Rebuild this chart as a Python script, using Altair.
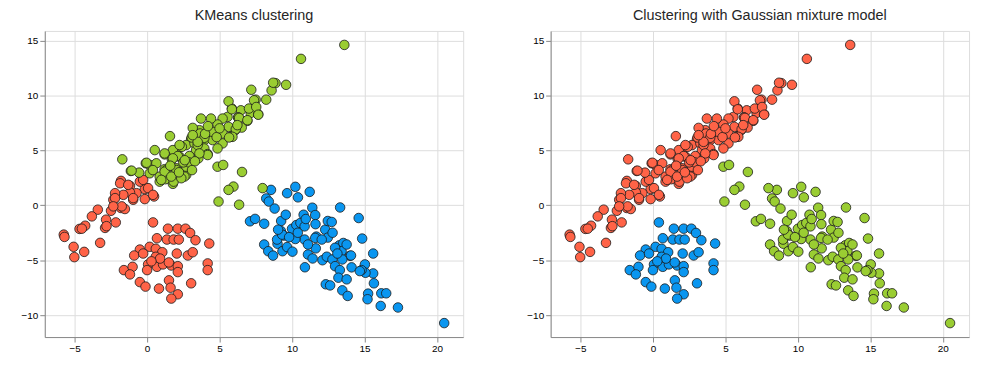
import altair as alt
import pandas as pd

# Diagonal cluster, upper part (KMeans: green, GMM: red)
A_top = [
    (13.61, 14.59), (10.62, 13.32), (8.86, 11.11), (9.59, 10.96), (8.59, 10.45), (8.7, 11.15),
    (7.19, 10.51), (8.22, 9.61), (7.49, 9.61), (7.45, 8.94), (7.15, 8.4), (7.67, 8.28),
    (6.92, 7.68), (6.47, 8.64), (6.3, 7.98), (5.85, 8.8), (5.62, 9.46), (7.38, 9.55),
    (6.08, 6.83), (5.78, 6.23), (6.53, 7.07), (5.55, 8.04), (5.21, 7.89), (4.86, 7.35),
    (4.41, 7.89), (3.72, 7.89), (5.62, 7.13), (6.12, 6.92), (5.89, 6.23), (5.21, 6.53),
    (4.52, 6.53), (3.61, 6.83), (3.15, 7.04), (3.04, 6.02), (3.61, 6.44), (3.95, 5.93),
    (4.52, 5.93), (5.21, 5.63), (2.7, 5.48), (3.27, 5.63), (3.95, 5.17), (3.38, 5.02),
    (2.24, 5.32), (4.86, 5.17), (3.66, 6.53), (3.08, 6.17), (3.95, 6.14), (1.58, 6.29),
    (0.53, 5.02), (1.78, 5.02), (2.4, 5.32), (3.49, 5.48), (2.92, 4.48), (3.54, 4.27),
    (4.18, 4.66), (1.21, 4.63), (1.71, 4.18), (2.24, 4.42), (-1.71, 4.18), (-0.09, 3.82),
    (-1.12, 3.12), (-0.55, 2.97), (0.18, 3.67), (1.21, 3.28), (2.01, 3.37), (2.7, 2.76),
    (1.33, 2.46), (1.78, 1.95), (0.87, 2.15), (0.18, 2.91), (0.87, 2.61), (1.33, 3.21),
    (2.01, 3.21), (2.12, 4.48), (1.26, 2.37), (1.83, 2.15), (2.58, 2.61), (4.18, 4.57),
    (0.64, 3.82), (1.21, 4.72), (1.78, 4.27), (1.21, 3.06), (1.67, 2.61), (2.36, 2.46),
    (2.24, 5.48), (3.49, 5.77), (3.61, 4.72), (2.7, 3.51), (3.15, 6.38), (4.52, 6.68),
    (0.98, 2.31), (-1.07, 3.15), (-0.04, 3.87), (5.66, 6.17), (5.85, 8.73), (6.28, 7.98),
    (6.35, 7.95), (6.23, 7.29), (7.03, 8.8), (6.92, 7.74), (7.53, 8.94), (7.67, 8.24),
    (2.9, 3.9), (3.3, 4.0), (2.5, 3.9), (3.1, 3.2), (0.4, 3.2), (1.6, 3.6),
    (2.2, 3.0), (2.6, 4.1), (4.0, 6.5), (4.8, 6.2), (5.0, 7.0), (4.2, 7.2),
]

# Diagonal cluster, lower-left part (KMeans: red, GMM: red)
A_low = [
    (-1.8, 2.22), (-1.18, 1.76), (-0.43, 2.22), (-0.04, 1.56), (-0.16, 1.47), (0.48, 0.8),
    (-0.16, 0.56), (-0.96, 0.5), (-0.73, 1.1), (-1.18, 1.16), (-1.64, 0.95), (-2.21, 1.1),
    (-2.33, 0.5), (-1.8, -0.25), (-1.53, -0.34), (-2.49, -0.5), (-3.4, -0.4), (-3.81, -1.01),
    (-2.16, -1.56), (-2.83, -1.31), (-2.9, -2.06), (-4.27, -1.86), (-4.66, -2.15), (-5.75, -2.67),
    (-5.7, -2.88), (-5.07, -3.78), (-4.34, -4.24), (-5.02, -4.72), (-3.24, -3.42), (-1.86, 2.0),
    (-1.3, 1.86), (-0.5, 2.15), (-0.27, 2.31), (0.07, 1.56), (0.41, 0.95), (-2.21, 0.65),
    (-1.75, -0.1), (-2.33, -0.1), (-0.96, 0.65), (-2.8, -1.9), (-4.5, -2.13),
]

# Small round cluster (KMeans: red, GMM: blue)
B = [
    (0.41, -1.56), (1.44, -2.13), (2.12, -2.13), (2.65, -2.13), (2.97, -2.52), (0.68, -3.0),
    (1.37, -3.12), (1.83, -3.12), (2.19, -3.12), (3.34, -3.18), (4.29, -3.48), (-0.5, -4.03),
    (0.18, -3.78), (0.6, -3.96), (1.05, -4.27), (-0.89, -4.57), (-0.27, -4.39), (0.6, -4.69),
    (2.05, -4.39), (2.81, -4.57), (3.15, -4.27), (0.07, -5.38), (0.68, -5.6), (1.1, -5.38),
    (1.67, -5.48), (2.12, -5.54), (0.0, -5.9), (2.12, -6.08), (-1.6, -5.9), (-1.0, -5.6),
    (-1.18, -6.29), (4.18, -5.29), (4.18, -5.9), (-0.5, -6.99), (-0.11, -7.4), (0.82, -7.58),
    (1.51, -6.83), (1.62, -7.5), (2.12, -8.1), (1.67, -8.49), (3.04, -7.1), (0.9, -4.85),
    (1.5, -5.2), (0.3, -5.1),
]

# Lower-right cluster (KMeans: blue, GMM: green)
C = [
    (8.55, 1.4), (8.22, 0.62), (8.4, 0.34), (8.8, -0.3), (9.66, 1.1), (10.23, 1.68),
    (10.41, 0.72), (11.22, 1.22), (7.1, -1.46), (7.45, -1.24), (8.08, -1.68), (9.25, -1.43),
    (9.57, -0.86), (9.23, -2.34), (10.0, -2.14), (10.3, -1.8), (10.58, -1.61), (10.8, -0.86),
    (10.87, -1.92), (10.95, -1.25), (11.4, -0.22), (11.6, -0.89), (11.62, -1.72), (12.29, -2.22),
    (12.47, -1.43), (12.74, -1.52), (12.47, -2.94), (11.68, -2.85), (10.87, -3.12), (10.23, -3.07),
    (9.43, -2.76), (9.0, -3.5), (8.08, -3.57), (8.36, -4.18), (8.69, -4.58), (9.34, -4.18),
    (9.66, -3.8), (10.03, -4.22), (11.1, -4.48), (11.42, -4.84), (11.64, -3.92), (10.89, -5.64),
    (12.1, -5.0), (12.4, -4.68), (12.79, -4.93), (13.26, -3.65), (13.54, -3.43), (13.42, -4.18),
    (14.0, -4.6), (13.47, -4.93), (13.32, -0.2), (14.6, -1.16), (14.84, -3.03), (15.6, -4.39),
    (12.97, -5.54), (13.3, -5.9), (14.11, -5.65), (15.03, -5.38), (15.6, -6.2), (15.07, -6.14),
    (14.8, -5.9), (13.2, -6.59), (13.77, -6.74), (12.33, -7.19), (12.63, -7.29), (13.47, -7.74),
    (13.84, -8.25), (15.65, -7.1), (15.25, -8.04), (15.21, -8.55), (16.16, -8.01), (16.5, -8.01),
    (16.12, -9.16), (17.31, -9.3), (20.5, -10.72), (8.97, -3.12), (9.32, -2.67), (9.04, -2.22),
    (11.1, -3.57), (11.6, -2.97), (12.05, -3.12), (12.97, -3.87), (13.13, -4.39), (13.77, -3.57),
    (14.07, -4.57), (14.68, -5.99), (10.4, -2.5), (9.8, -2.9), (12.8, -2.5),
]

# Lower-right cluster points that KMeans puts in the green group
C_edge = [
    (4.86, 3.51), (5.25, 3.67), (6.55, 3.03), (5.96, 1.7), (5.62, 1.4),
    (4.93, 0.34), (6.35, 0.05), (7.97, 1.56),
]

groups = [
    (B, "red", "blue"),
    (C, "blue", "green"),
    (C_edge, "green", "green"),
    (A_low, "red", "red"),
    (A_top, "green", "red"),
]

rows = []
for pts, km, gmm in groups:
    for x, y in pts:
        rows.append({"x": x, "y": y, "km": km, "gmm": gmm})
df = pd.DataFrame(rows)

color_domain = ["red", "green", "blue"]
color_range = ["#ff6347", "#9acd32", "#0a96f0"]

FONT = "Liberation Sans"


def panel(field, title):
    return (
        alt.Chart(
            df,
            title=alt.Title(title, fontSize=14.5, font=FONT, fontWeight="normal",
                            color="#262626", offset=8),
        )
        .mark_circle(size=92, opacity=1, stroke="#1a1a1a", strokeWidth=0.8)
        .encode(
            x=alt.X("x:Q",
                    scale=alt.Scale(domain=[-7.06, 21.81], nice=False, zero=False),
                    axis=alt.Axis(values=[-5, 0, 5, 10, 15, 20], title=None)),
            y=alt.Y("y:Q",
                    scale=alt.Scale(domain=[-11.99, 15.86], nice=False, zero=False),
                    axis=alt.Axis(values=[-10, -5, 0, 5, 10, 15], title=None,
                                  minExtent=31, maxExtent=31)),
            color=alt.Color(field + ":N",
                            scale=alt.Scale(domain=color_domain, range=color_range),
                            legend=None),
        )
        .properties(width=421, height=308)
    )


chart = (
    alt.hconcat(panel("km", "KMeans clustering"),
                panel("gmm", "Clustering with Gaussian mixture model"),
                spacing=55)
    .properties(padding={"left": 5, "right": 5, "top": -2, "bottom": 5})
    .configure_view(stroke="#cccccc", strokeWidth=1.25)
    .configure_axis(grid=True, gridColor="#cccccc", gridWidth=1, ticks=False,
                    domain=False, labelFontSize=11.5, labelColor="#262626",
                    labelFont=FONT, labelPadding=7)
    .configure(background="white")
)

chart.save("out.html", embed_options={"renderer": "svg", "actions": False})
